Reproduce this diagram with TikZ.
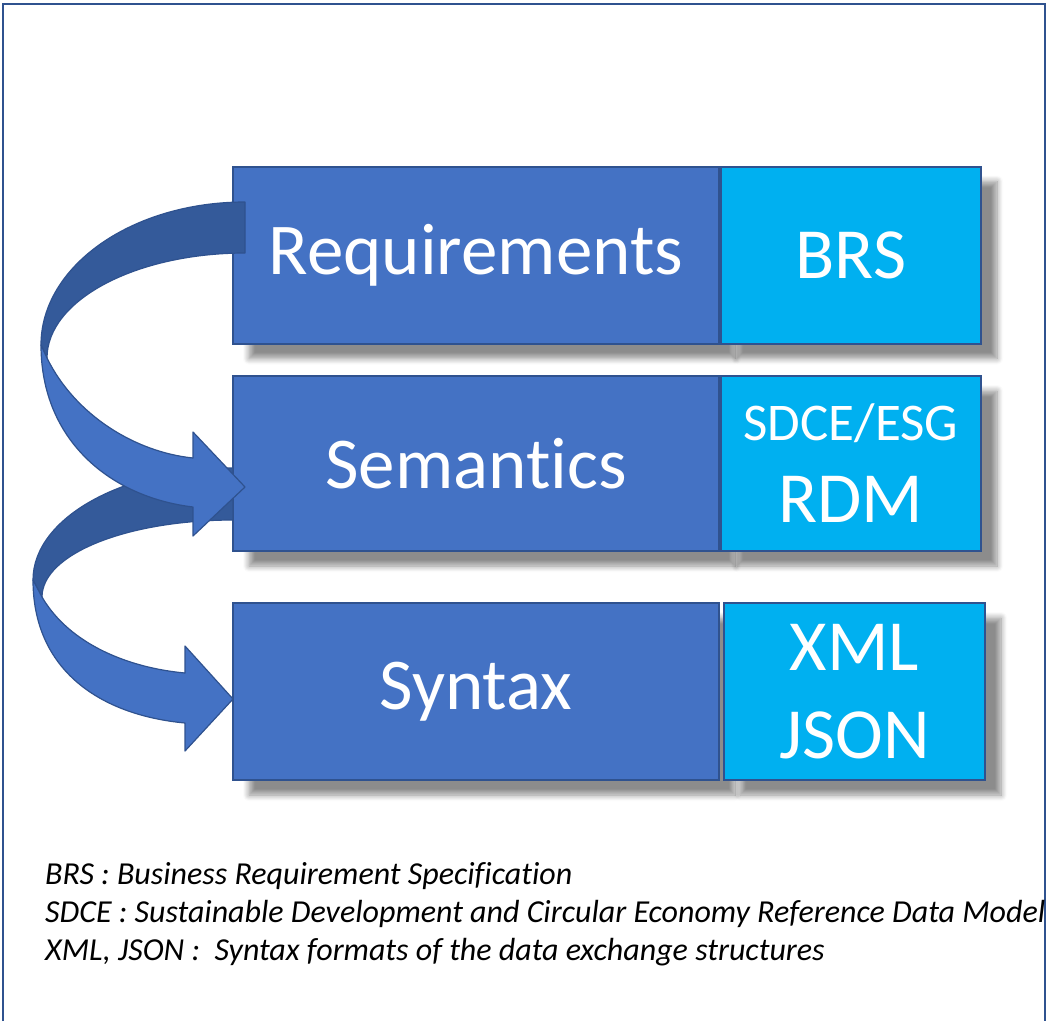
\documentclass[tikz,border=0pt]{standalone}
\usepackage{fontspec}
\setmainfont{Carlito}[Ligatures=NoCommon]
\usetikzlibrary{positioning,shadows.blur}
\definecolor{boxblue}{HTML}{4472C4}
\definecolor{edgeblue}{HTML}{2F528F}
\definecolor{skyblue}{HTML}{00B0F0}
\definecolor{backblue}{HTML}{345A9A}
\begin{document}
\begin{tikzpicture}[x=1pt, y=-1pt,
	layer/.style={draw=edgeblue, line width=2pt, fill=boxblue, text=white, minimum width=486pt, minimum height=177pt, inner sep=0pt, font=\fontsize{73}{80}\selectfont, blur shadow={shadow xshift=16pt, shadow yshift=-15pt, shadow blur radius=6pt, shadow blur steps=8, shadow opacity=45}},
	tag/.style={layer, fill=skyblue, minimum width=260pt, align=center, font=\fontsize{72}{88}\selectfont},
	band/.style={draw=edgeblue, line width=1.2pt, line join=round},
	legend/.style={anchor=west, inner sep=0pt, font=\fontsize{32}{38}\selectfont\itshape}]
		\useasboundingbox (0,0) rectangle (1056,1021);
		% frame
		\draw[edgeblue, line width=2.5pt] (3,1021) -- (3,4) -- (1045,4) -- (1045,1021);
		
		% layers
		\node[layer] (req) at (476,255) {Requirements};
		\node[tag, right=0pt of req] (brs) {BRS};
		\node[layer, minimum height=175pt] (sem) at (476,463.5) {Semantics};
		\node[tag, minimum height=175pt, right=0pt of sem] (rdm) {{\fontsize{53}{60}\selectfont SDCE/ESG}\\[-6pt]RDM};
		\node[layer] (syn) at (476,691.5) {Syntax};
		\node[tag, minimum width=261pt, right=3pt of syn] (fmt) {XML\\JSON};
		
		% lower arrow
		\filldraw[band, fill=backblue] (233,468) .. controls (123,468) and (33,518) .. (33,580) -- (42,597) .. controls (42,554) and (127,520) .. (233,520) -- cycle;
		\filldraw[band, fill=boxblue] (33,580) .. controls (33,670) and (100,715) .. (185,723) -- (185,751) -- (233,699) -- (185,646) -- (185,673) .. controls (130,668) and (70,645) .. (42,597) -- cycle;
		
		% upper arrow
		\filldraw[band, fill=backblue] (245,202) .. controls (132,202) and (41,266) .. (41,345) -- (47,358) .. controls (47,300) and (136,253) .. (245,253) -- cycle;
		\filldraw[band, fill=boxblue] (41,345) .. controls (41,440) and (110,497) .. (193,507) -- (193,536) -- (245,487) -- (193,432) -- (193,458) .. controls (135,452) and (75,415) .. (47,358) -- cycle;
		
		% legend
		\node[legend] (brsnote) at (45,876) {BRS : Business Requirement Specification};
		\node[legend] (sdcenote) at (45,914) {SDCE : Sustainable Development and Circular Economy Reference Data Model};
		\node[legend] (fmtnote) at (45,952) {XML, JSON :\ \ Syntax formats of the data exchange structures};
	\end{tikzpicture}
\end{document}
